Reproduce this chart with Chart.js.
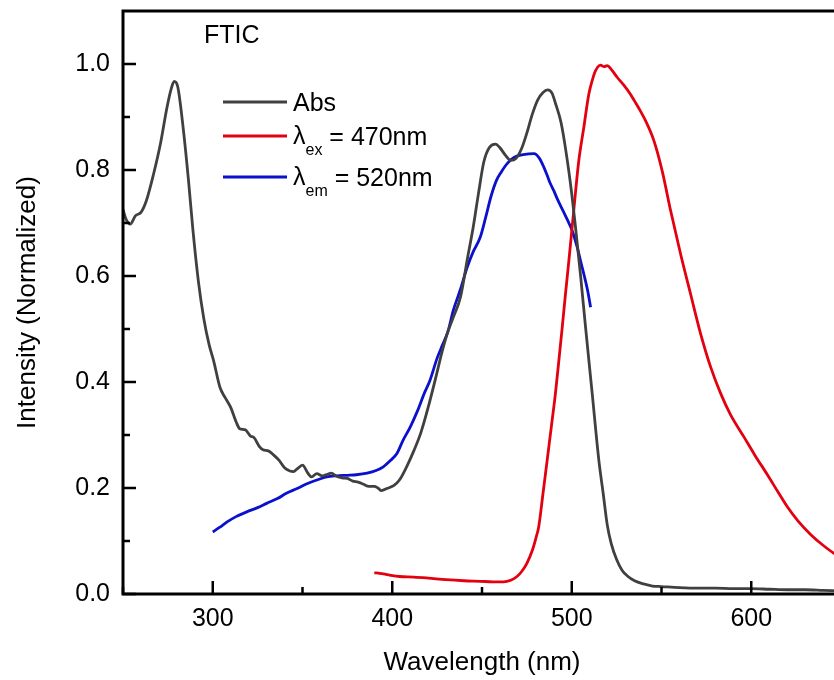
<!DOCTYPE html>
<html>
<head>
<meta charset="utf-8">
<title>FTIC spectra</title>
<script src="https://cdn.jsdelivr.net/npm/chart.js@4.4.1/dist/chart.umd.min.js"></script>
<style>
  html, body { margin: 0; padding: 0; background: #fff; overflow: hidden; }
  #wrap { width: 846px; height: 680px; }
</style>
</head>
<body>
<div id="wrap"><canvas id="myChart" width="846" height="680"></canvas></div>
<script>
// absorption (gray)
var absWl = [
    250, 252, 254, 257, 260, 263, 267, 271, 274.5, 277,
    278.5, 280.5, 283.5, 286.5, 289, 292, 295, 298, 300.5, 304,
    307, 310, 313, 315, 318, 321, 323, 326, 328, 331,
    334, 337, 340, 343, 345, 347, 350, 353, 355, 358,
    361, 364, 366, 369, 372, 375, 378, 381, 384, 387,
    390, 392, 394, 397, 401, 404, 408, 412, 416, 420,
    424, 428, 431, 434, 438, 442, 445, 448, 451, 454,
    457.5, 460, 463, 466, 469, 472, 475, 478, 481, 484,
    486.5, 489, 491, 494, 497, 500, 502, 505, 507.7, 511.4,
    515.1, 517.5, 519.8, 522, 525, 528, 531, 535, 540, 545,
    550, 560, 570, 580, 590, 600, 610, 620, 630, 640, 650
];
var absVal = [
    0.725, 0.705, 0.698, 0.714, 0.72, 0.742, 0.792, 0.852, 0.918, 0.955,
    0.967, 0.957, 0.88, 0.78, 0.685, 0.59, 0.52, 0.47, 0.44, 0.39,
    0.37, 0.352, 0.325, 0.312, 0.31, 0.298, 0.295, 0.278, 0.272, 0.27,
    0.262, 0.252, 0.238, 0.232, 0.231, 0.236, 0.243, 0.228, 0.221, 0.227,
    0.223, 0.226, 0.228, 0.222, 0.219, 0.218, 0.213, 0.211, 0.207, 0.203,
    0.203, 0.2, 0.195, 0.199, 0.205, 0.215, 0.24, 0.27, 0.305, 0.352,
    0.405, 0.46, 0.495, 0.522, 0.56, 0.635, 0.69, 0.755, 0.815, 0.842,
    0.849, 0.842, 0.828, 0.818, 0.822, 0.84, 0.87, 0.905, 0.932, 0.946,
    0.951, 0.945, 0.925, 0.89, 0.83, 0.755, 0.695, 0.598, 0.503, 0.378,
    0.252, 0.19, 0.13, 0.095, 0.065, 0.045, 0.034, 0.025, 0.019, 0.015,
    0.014, 0.012, 0.011, 0.011, 0.010, 0.010, 0.009, 0.008, 0.008, 0.007, 0.006
];

// emission, excited at 470 nm (red)
var exWl = [
    390, 393, 398, 404, 412, 420, 430, 440, 449, 456,
    462, 466, 469.5, 472, 475, 478, 480, 481.6, 484, 486.3,
    488.6, 490.9, 492.8, 494.7, 496.5, 498.4, 501.1, 503.9, 506.7, 509.5,
    511.5, 513.2, 516, 518, 519.8, 522, 525.3, 529, 532.7, 535,
    538.3, 541.1, 545.8, 550.4, 555.1, 560.6, 566.2, 571.8, 577.4, 583,
    588.5, 596, 602, 609, 615, 620.2, 626, 633.2, 640, 646,
    650
];
var exVal = [
    0.04, 0.039, 0.036, 0.033, 0.032, 0.03, 0.027, 0.025, 0.024, 0.023,
    0.023, 0.026, 0.033, 0.042, 0.058, 0.082, 0.105, 0.127, 0.19, 0.252,
    0.315, 0.378, 0.44, 0.503, 0.566, 0.629, 0.723, 0.817, 0.88, 0.943,
    0.97, 0.987, 0.998, 0.995, 0.997, 0.99, 0.975, 0.96, 0.943, 0.93,
    0.911, 0.893, 0.855, 0.798, 0.723, 0.642, 0.566, 0.491, 0.428, 0.378,
    0.338, 0.296, 0.262, 0.225, 0.192, 0.164, 0.138, 0.112, 0.092, 0.077,
    0.07
];

// excitation, monitored at 520 nm (blue)
var emWl = [
    300, 304, 308, 313, 319, 325, 330, 336, 341, 347,
    352.5, 358, 363.5, 369, 375, 380, 386, 391, 395, 399,
    402.6, 406, 410, 414, 418, 421, 425, 428, 431, 434,
    438, 441.7, 445, 449, 452, 455, 458, 460.5, 464, 468,
    473, 479, 482, 484.5, 486.5, 488, 490, 492, 495.6, 498,
    500.2, 503, 505, 507, 509, 510.5
];
var emVal = [
    0.117, 0.126, 0.136, 0.146, 0.155, 0.163, 0.171, 0.18, 0.19, 0.199,
    0.208, 0.215, 0.221, 0.223, 0.224, 0.225, 0.228, 0.233, 0.24, 0.252,
    0.265, 0.29, 0.315, 0.345, 0.38, 0.403, 0.445, 0.47, 0.495, 0.535,
    0.575, 0.616, 0.645, 0.673, 0.71, 0.75, 0.78, 0.795, 0.812, 0.824,
    0.829, 0.831, 0.822, 0.805, 0.788, 0.775, 0.761, 0.745, 0.72, 0.703,
    0.686, 0.655, 0.627, 0.6, 0.57, 0.541
];

var xTicks = [300, 400, 500, 600];
var xMinor = [250, 350, 450, 550, 650];
var yTicks = [0, 0.2, 0.4, 0.6, 0.8, 1.0];
var yMinor = [0.1, 0.3, 0.5, 0.7, 0.9];

var FONT = '"Liberation Sans", Arial, sans-serif';
var grayCol = '#404040', redCol = '#e3000f', blueCol = '#0a10cc';

function pts(xs, ys) {
    return xs.map(function (x, i) { return { x: x, y: ys[i] }; });
}

// axis frame, inward ticks, in-plot legend and sample label
var frame = {
    id: 'frame',
    afterDraw: function (chart) {
        var ctx = chart.ctx, a = chart.chartArea;
        var xs = chart.scales.x, ys = chart.scales.y;
        ctx.save();
        ctx.strokeStyle = '#000';
        ctx.lineWidth = 3;
        ctx.strokeRect(a.left, a.top, a.right - a.left, a.bottom - a.top);

        ctx.lineWidth = 2.5;
        ctx.beginPath();
        xTicks.forEach(function (v) {
            var p = xs.getPixelForValue(v);
            ctx.moveTo(p, a.bottom); ctx.lineTo(p, a.bottom - 13);
        });
        xMinor.forEach(function (v) {
            var p = xs.getPixelForValue(v);
            ctx.moveTo(p, a.bottom); ctx.lineTo(p, a.bottom - 7);
        });
        yTicks.forEach(function (v) {
            var p = ys.getPixelForValue(v);
            ctx.moveTo(a.left, p); ctx.lineTo(a.left + 13, p);
        });
        yMinor.forEach(function (v) {
            var p = ys.getPixelForValue(v);
            ctx.moveTo(a.left, p); ctx.lineTo(a.left + 7, p);
        });
        ctx.stroke();

        // legend
        var x0 = a.left + 100, x1 = a.left + 164, tx = a.left + 170;
        var rows = [
            { col: grayCol, ly: a.top + 91 },
            { col: redCol, ly: a.top + 125, sub: 'ex', rest: ' = 470nm' },
            { col: blueCol, ly: a.top + 166, sub: 'em', rest: ' = 520nm' }
        ];
        ctx.lineWidth = 3;
        rows.forEach(function (r) {
            ctx.strokeStyle = r.col;
            ctx.beginPath();
            ctx.moveTo(x0, r.ly); ctx.lineTo(x1, r.ly);
            ctx.stroke();
        });
        ctx.fillStyle = '#000';
        ctx.textAlign = 'left';
        ctx.textBaseline = 'alphabetic';
        ctx.font = '25px ' + FONT;
        ctx.fillText('Abs', tx, rows[0].ly + 9);
        rows.slice(1).forEach(function (r) {
            var x = tx;
            ctx.font = '25px ' + FONT;
            ctx.fillText('λ', x, r.ly + 8);
            x += ctx.measureText('λ').width;
            ctx.font = '16px ' + FONT;
            ctx.fillText(r.sub, x, r.ly + 19);
            x += ctx.measureText(r.sub).width;
            ctx.font = '25px ' + FONT;
            ctx.fillText(r.rest, x, r.ly + 9);
        });

        ctx.font = '25px ' + FONT;
        ctx.fillText('FTIC', a.left + 81, a.top + 32);
        ctx.restore();
    }
};

var chart = new Chart(document.getElementById('myChart'), {
    type: 'line',
    data: {
        datasets: [
            { label: 'Abs', data: pts(absWl, absVal), borderColor: grayCol },
            { label: 'λex = 470nm', data: pts(exWl, exVal), borderColor: redCol },
            { label: 'λem = 520nm', data: pts(emWl, emVal), borderColor: blueCol }
        ]
    },
    options: {
        responsive: false,
        animation: false,
        layout: { padding: { top: 11, right: 5, left: 0, bottom: 0 } },
        plugins: { legend: { display: false }, tooltip: { enabled: false } },
        elements: {
            point: { radius: 0 },
            line: { borderWidth: 2.8, cubicInterpolationMode: 'monotone', fill: false }
        },
        scales: {
            x: {
                type: 'linear', min: 250, max: 650,
                grid: { display: false, drawTicks: false },
                border: { display: false },
                afterBuildTicks: function (s) { s.ticks = xTicks.map(function (v) { return { value: v }; }); },
                afterFit: function (s) { s.height = 86; s.paddingLeft = 0; s.paddingRight = 0; },
                ticks: {
                    color: '#000', padding: 10, maxRotation: 0,
                    font: { family: FONT, size: 25 },
                    callback: function (v) { return String(v); }
                },
                title: {
                    display: true, text: 'Wavelength (nm)', color: '#000',
                    font: { family: FONT, size: 26 },
                    padding: { top: 0, bottom: 2 }
                }
            },
            y: {
                min: 0, max: 1.1,
                grid: { display: false, drawTicks: false },
                border: { display: false },
                afterBuildTicks: function (s) { s.ticks = yTicks.map(function (v) { return { value: v }; }); },
                afterFit: function (s) { s.width = 123; s.paddingTop = 0; s.paddingBottom = 0; },
                ticks: {
                    color: '#000', padding: 13,
                    font: { family: FONT, size: 25 },
                    callback: function (v) { return Number(v).toFixed(1); }
                },
                title: {
                    display: true, text: 'Intensity (Normalized)', color: '#000',
                    font: { family: FONT, size: 26 },
                    padding: { top: 12, bottom: 0 }
                }
            }
        }
    },
    plugins: [frame]
});
</script>
</body>
</html>
